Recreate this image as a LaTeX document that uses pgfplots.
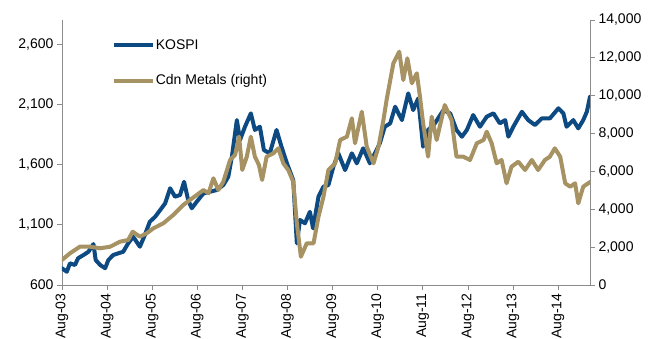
\documentclass[border=0pt]{standalone}
\usepackage{fontspec}
\setmainfont{Liberation Sans}
\usepackage{pgfplots}
\usepackage{pgfplotstable}
\pgfplotsset{compat=1.18}

\definecolor{kospiblue}{RGB}{14,74,130}
\definecolor{metaltan}{RGB}{166,146,98}
\definecolor{axisgray}{RGB}{140,140,140}

% KOSPI index (left scale)
\pgfplotstableread{
date value
2003.58 739
2003.69 710
2003.76 780
2003.87 766
2003.94 822
2004.06 849
2004.17 876
2004.28 940
2004.33 807
2004.43 766
2004.54 739
2004.61 807
2004.72 849
2004.83 863
2004.94 876
2005.05 946
2005.16 1001
2005.31 918
2005.42 1015
2005.53 1125
2005.65 1167
2005.76 1222
2005.87 1278
2005.98 1403
2006.09 1333
2006.20 1347
2006.29 1457
2006.38 1305
2006.46 1237
2006.57 1291
2006.72 1361
2006.86 1374
2007.01 1388
2007.16 1430
2007.27 1499
2007.35 1665
2007.46 1969
2007.53 1804
2007.64 1914
2007.77 2025
2007.86 1887
2007.97 1914
2008.06 1720
2008.19 1693
2008.34 1887
2008.45 1748
2008.57 1610
2008.71 1471
2008.79 946
2008.86 1140
2008.97 1112
2009.08 1208
2009.15 1070
2009.27 1333
2009.38 1416
2009.49 1430
2009.60 1582
2009.71 1693
2009.86 1554
2010.01 1693
2010.12 1610
2010.26 1735
2010.41 1610
2010.52 1693
2010.63 1776
2010.74 1914
2010.86 1942
2010.97 2080
2011.12 1969
2011.26 2191
2011.37 2052
2011.48 2149
2011.59 1748
2011.70 1887
2011.85 1942
2012.04 2052
2012.19 2025
2012.33 1887
2012.45 1831
2012.56 1887
2012.70 2011
2012.85 1914
2013.00 1997
2013.15 2025
2013.29 1942
2013.41 1969
2013.48 1831
2013.59 1914
2013.78 2038
2013.92 1969
2014.07 1928
2014.22 1983
2014.40 1983
2014.59 2067
2014.70 2025
2014.77 1914
2014.92 1969
2015.03 1900
2015.14 1969
2015.22 2038
2015.29 2163
}\kospi

% Canadian metals index (right scale)
\pgfplotstableread{
date value
2003.58 1321
2003.76 1675
2003.98 2023
2004.20 2023
2004.43 1939
2004.65 2023
2004.87 2288
2005.05 2377
2005.15 2816
2005.31 2552
2005.46 2731
2005.61 2995
2005.83 3260
2006.05 3698
2006.27 4226
2006.42 4491
2006.57 4755
2006.72 5019
2006.83 4844
2006.94 5637
2007.05 5019
2007.16 5457
2007.31 6604
2007.42 6868
2007.51 7835
2007.58 6075
2007.68 6778
2007.77 7835
2007.86 6778
2007.95 6340
2008.02 5547
2008.12 6778
2008.27 6958
2008.38 7222
2008.49 6429
2008.60 6075
2008.71 5457
2008.79 3260
2008.88 1495
2009.01 2203
2009.16 2203
2009.27 3608
2009.38 4665
2009.49 6075
2009.64 6429
2009.75 7660
2009.90 7835
2010.01 8807
2010.08 7486
2010.23 9155
2010.34 7306
2010.49 6429
2010.60 7306
2010.71 8717
2010.78 9774
2010.93 11712
2011.06 12325
2011.15 10830
2011.24 11977
2011.34 10656
2011.45 11184
2011.52 9948
2011.59 8543
2011.70 6778
2011.78 8891
2011.89 7660
2012.07 9509
2012.22 8717
2012.33 6778
2012.48 6778
2012.63 6604
2012.78 7486
2012.93 7660
2013.00 8099
2013.11 7486
2013.22 6429
2013.33 6604
2013.44 5373
2013.55 6250
2013.70 6514
2013.85 6075
2014.00 6604
2014.14 6075
2014.29 6604
2014.40 6778
2014.51 7222
2014.63 6778
2014.74 5373
2014.85 5193
2014.96 5373
2015.03 4316
2015.14 5193
2015.25 5373
2015.29 5441
}\metals

\pgfplotsset{
  twinbase/.style={
    scale only axis, width=528pt, height=265pt,
    at={(0pt,0pt)}, anchor=south west,
    xmin=2003.583, xmax=2015.29,
    tick align=outside, major tick length=5pt,
    axis line style={axisgray, line width=0.8pt},
    major tick style={axisgray, line width=0.8pt},
    tick label style={font=\fontsize{14}{16}\selectfont, text=black},
    scaled y ticks=false,
    /pgf/number format/assume math mode=true,
    /pgf/number format/1000 sep={,},
  },
  series/.style={line width=4pt, line join=round, line cap=round},
}

\begin{document}
\begin{tikzpicture}
\useasboundingbox (-62pt,-54pt) rectangle (587pt,285pt);
\begin{axis}[twinbase,
  axis x line*=bottom, axis y line*=left,
  ymin=600, ymax=2800,
  ytick={600,1100,1600,2100,2600},
  xtick={2003.583,2004.583,2005.583,2006.583,2007.583,2008.583,2009.583,2010.583,2011.583,2012.583,2013.583,2014.583},
  xticklabels={Aug-03,Aug-04,Aug-05,Aug-06,Aug-07,Aug-08,Aug-09,Aug-10,Aug-11,Aug-12,Aug-13,Aug-14},
  xticklabel style={rotate=90, anchor=east},
]
\addplot[series, kospiblue] table[x=date, y=value] {\kospi};
\end{axis}
\begin{axis}[twinbase,
  axis x line=none, axis y line*=right,
  ymin=0, ymax=14000,
  ytick={0,2000,4000,6000,8000,10000,12000,14000},
  legend cell align=left,
  legend style={draw=none, fill=none, inner sep=0pt,
    at={(axis description cs:0.094,0.838)}, anchor=west,
    row sep=20pt, font=\fontsize{14}{16}\selectfont,
    nodes={inner xsep=1pt}},
  legend image code/.code={\draw[#1, line cap=butt] (0pt,0pt) -- (39pt,0pt);},
]
\addlegendimage{series, kospiblue}
\addlegendentry{KOSPI}
\addplot[series, metaltan] table[x=date, y=value] {\metals};
\addlegendentry{Cdn Metals (right)}
\end{axis}
\end{tikzpicture}
\end{document}
